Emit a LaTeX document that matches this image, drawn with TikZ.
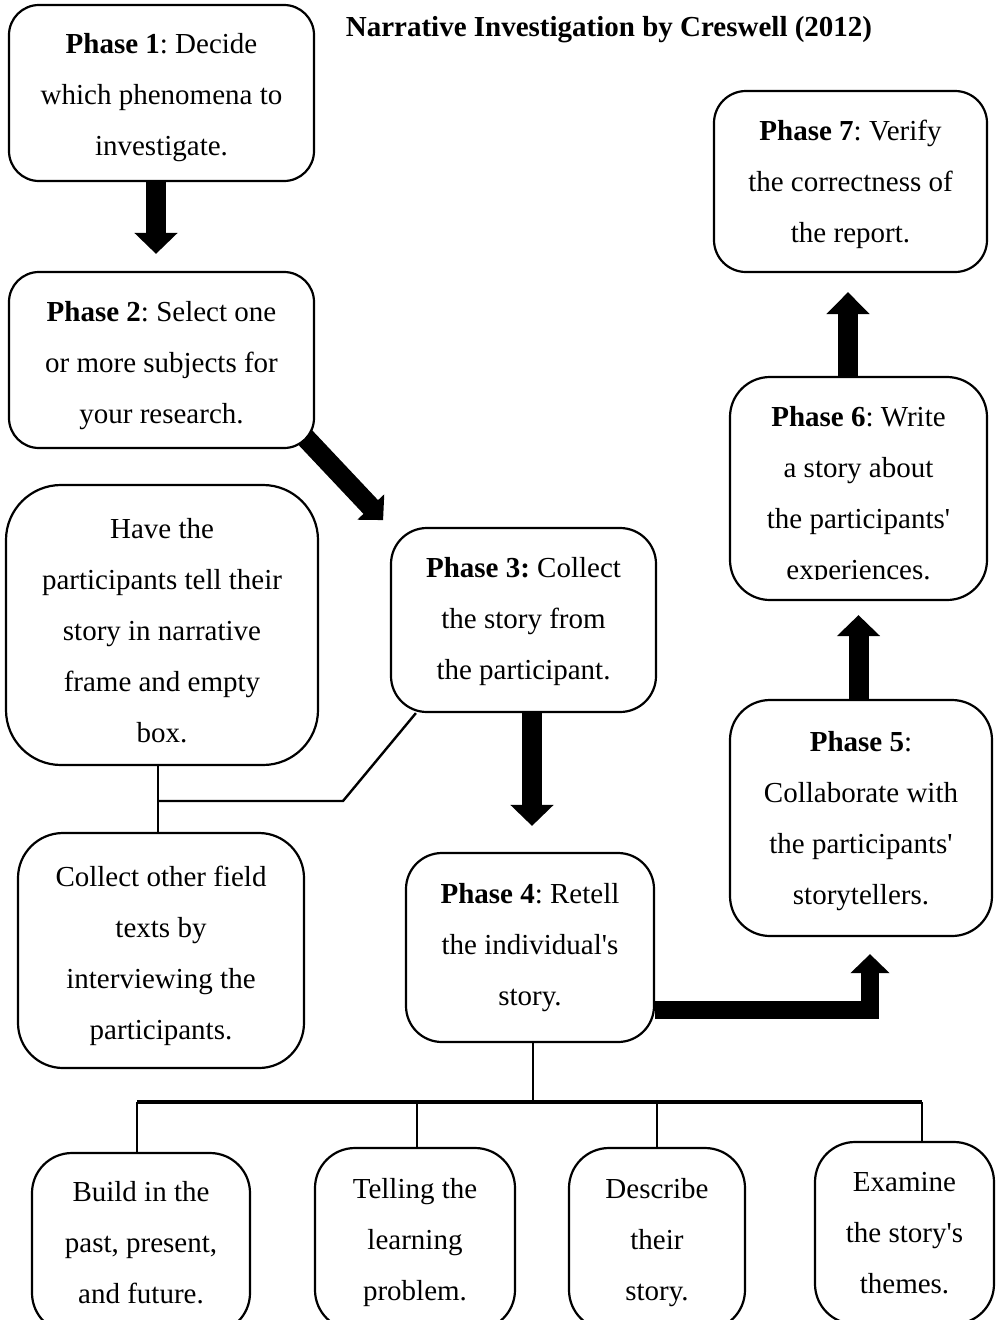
\documentclass[tikz,border=0pt]{standalone}
\usepackage{fontspec}
\setmainfont{Liberation Serif}[Ligatures=TeXOff]
\usetikzlibrary{arrows.meta,backgrounds}
\newcommand\tsh[1]{\rule{0pt}{#1pt}}
\begin{document}
\frenchspacing
\begin{tikzpicture}[x=1pt,y=-1pt,
  box/.style={draw,line width=2.2pt,rounded corners=#1,fill=white,align=center,inner sep=0pt,font=\fontsize{29}{51}\selectfont\frenchspacing},
  box/.default=30pt,
  txt/.style={align=center,inner sep=0pt,font=\fontsize{29}{51}\selectfont\frenchspacing},
  blk/.style={line width=20pt,line join=miter,-{Triangle[width=42pt,length=21pt]}},
  conn/.style={line width=2.4pt},
  bus/.style={line width=4pt}]
\useasboundingbox (0,0) rectangle (997,1320);
\clip (0,0) rectangle (997,1320);
\node[font=\fontsize{29}{35}\selectfont\bfseries] (title) at (609,30) {Narrative Investigation by Creswell (2012)};
\node[box, minimum width=305pt, minimum height=176pt] (b1) at (161.5,93) {\tsh{30}\textbf{Phase 1}: Decide\\which phenomena to\\investigate.};
\node[box, minimum width=305pt, minimum height=176pt] (b2) at (161.5,360) {\tsh{32}\textbf{Phase 2}: Select one\\or more subjects for\\your research.};
\node[box=55pt, minimum width=312pt, minimum height=280pt] (hv) at (162,625) {\tsh{32}Have the\\participants tell their\\story in narrative\\frame and empty\\box.};
\node[box=45pt, minimum width=286pt, minimum height=235pt] (co) at (161,950.5) {\tsh{32}Collect other field\\texts by\\interviewing the\\participants.};
\node[box=36pt, minimum width=265pt, minimum height=184pt] (b3) at (523.5,620) {\tsh{24}\textbf{Phase 3:} Collect\\the story from\\the participant.};
\node[box=36pt, minimum width=248pt, minimum height=189pt] (b4) at (530,947.5) {\textbf{Phase 4}: Retell\\the individual's\\story.};
\node[box=40pt, minimum width=262pt, minimum height=236pt] (b5) at (861,818) {\tsh{26}\textbf{Phase 5}:\\Collaborate with\\the participants'\\storytellers.};
\node[box=40pt, minimum width=257pt, minimum height=223pt] (b6) at (858.5,488.5) {};
\begin{scope}
\clip (732,379) rectangle (985,579);
\node[txt] (b6t) at (b6.center) {\tsh{36}\textbf{Phase 6}: Write\\a story about\\the participants'\\experiences.};
\end{scope}
\node[box=32pt, minimum width=273pt, minimum height=181pt] (b7) at (850.5,181.5) {\tsh{26}\textbf{Phase 7}: Verify\\the correctness of\\the report.};
\node[box=40pt, minimum width=218pt, minimum height=180pt] (bA) at (141,1243) {Build in the\\past, present,\\and future.};
\node[box=40pt, minimum width=200pt, minimum height=182pt] (bB) at (415,1239) {\tsh{28}Telling the\\learning\\problem.};
\node[box=40pt, minimum width=176pt, minimum height=182pt] (bC) at (657,1239) {\tsh{28}Describe\\their\\story.};
\node[box=40pt, minimum width=179pt, minimum height=182pt] (bD) at (904.5,1233) {Examine\\the story's\\themes.};
\begin{pgfonlayer}{background}
\draw[blk] ([xshift=-5.5pt]b1.south) -- ([xshift=-5.5pt,yshift=17pt]b2.north);
\draw[blk,-{Triangle[width=36pt,length=18pt]}] ([xshift=-14pt,yshift=16pt]b2.south east) -- ([xshift=68pt,yshift=-71pt]b2.south east);
\draw[blk] ([xshift=8.5pt]b3.south) -- ([xshift=2pt,yshift=26pt]b4.north);
\draw[blk,line width=18pt,-{Triangle[width=38pt,length=19pt]}] ([yshift=-62pt]b4.east) -| ([xshift=9pt,yshift=-17pt]b5.south);
\draw[blk] ([xshift=-2.5pt]b5.north) -- ([yshift=-14pt]b6.south);
\draw[blk,-{Triangle[width=42pt,length=22pt]}] ([xshift=-10.5pt]b6.north) -- ([xshift=-2.5pt,yshift=-19pt]b7.south);
\end{pgfonlayer}
\coordinate (bend) at (343,801);
\coordinate (jn) at (158,801);
\draw[conn] ([xshift=26pt]b3.south west) -- (bend) -- (jn);
\draw[conn] ([xshift=-4pt]hv.south) -- ([xshift=-3pt]co.north);
\coordinate (busM) at (533,1102);
\coordinate (busL) at (137,1102);
\coordinate (dB) at (417,1102);
\coordinate (dC) at (657,1102);
\coordinate (busR) at (922,1102);
\draw[conn] ([xshift=3pt]b4.south) -- (busM);
\draw[bus] (busL) -- (busR);
\draw[conn] (busL) -- (busL |- bA.north);
\draw[conn] (dB) -- (dB |- bB.north);
\draw[conn] (dC) -- (dC |- bC.north);
\draw[conn] (busR) -- (busR |- bD.north);
\end{tikzpicture}
\end{document}
